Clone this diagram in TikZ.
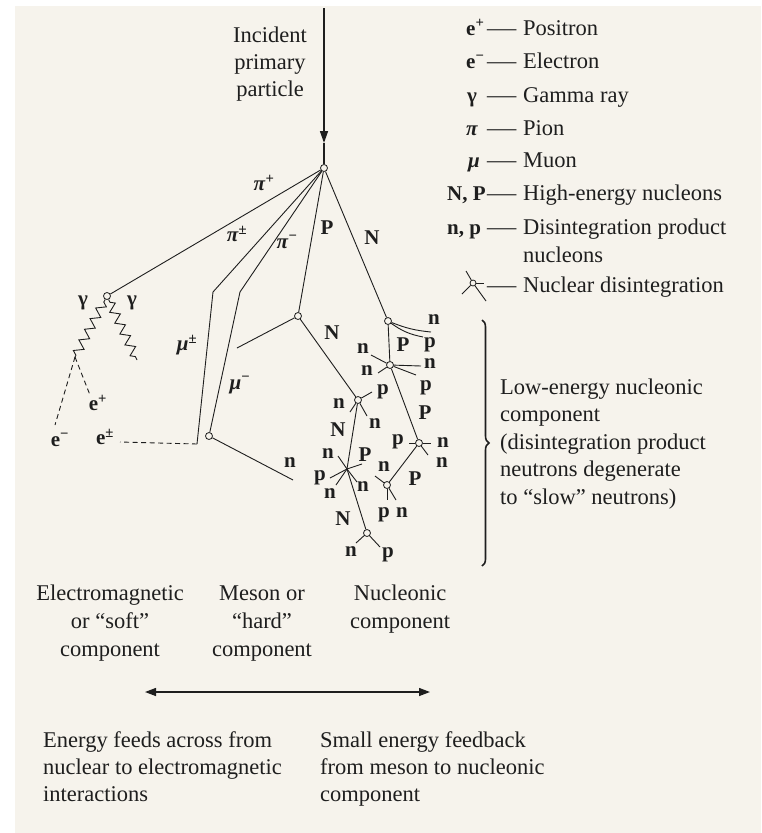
\documentclass[tikz,border=0pt]{standalone}
\usepackage{fontspec}
\usepackage{graphicx}
\setmainfont{Liberation Serif}
\usetikzlibrary{arrows.meta,decorations.pathmorphing,decorations.pathreplacing}
\definecolor{cream}{RGB}{246,243,236}
\definecolor{ink}{RGB}{30,30,30}
\begin{document}
\begin{tikzpicture}[x=1pt,y=-1pt,
  trk/.style={draw=ink,line width=0.9pt},
  edash/.style={draw=ink,line width=0.9pt,dash pattern=on 5pt off 3.5pt},
  gam/.style={draw=ink,line width=0.9pt,decorate,decoration={zigzag,amplitude=4.5pt,segment length=12pt,pre length=3pt,post length=1pt}},
  vtx/.style={circle,draw=ink,fill=cream,line width=0.8pt,inner sep=0pt,minimum size=7pt},
  lbl/.style={font=\fontsize{21}{23}\selectfont\bfseries,inner sep=0pt,text=ink},
  txt/.style={font=\fontsize{22.5}{27.5}\selectfont,inner sep=0pt,text=ink},
  leg/.style={font=\fontsize{22.5}{28}\selectfont,inner sep=0pt,anchor=base west,text=ink},
  legsym/.style={font=\fontsize{21}{24}\selectfont\bfseries,inner sep=0pt,anchor=base west,text=ink}]

\fill[white] (0,0) rectangle (761,833);
\fill[cream] (15,6) rectangle (761,833);
\useasboundingbox (0,0) rectangle (761,833);

% ---------- vertices and points ----------
\coordinate (top) at (324,8);
\coordinate (tip) at (324,143);
\node[vtx] (v0) at (324,168) {};
\node[vtx] (vg) at (107,296) {};
\coordinate (k1) at (213,292);
\coordinate (k2) at (197,444);
\coordinate (e1) at (120,442);
\coordinate (k3) at (240,292);
\node[vtx] (vmu) at (209,436) {};
\coordinate (nend) at (293,480);
\node[vtx] (v1) at (298,316) {};
\coordinate (s1) at (237,348);
\node[vtx] (v2) at (358,400) {};
\coordinate (v3) at (347,469);
\node[vtx] (v4) at (367,533) {};
\node[vtx] (v5) at (388,321) {};
\node[vtx] (v6) at (390,365) {};
\node[vtx] (v7) at (419,443) {};
\node[vtx] (v8) at (387,485) {};

% stubs
\coordinate (a1) at (372,392); \coordinate (a2) at (350,412); \coordinate (a3) at (367,416);
\coordinate (b1) at (338,456); \coordinate (b2) at (362,464); \coordinate (b3) at (330,478);
\coordinate (b4) at (336,485); \coordinate (b5) at (357,482);
\coordinate (c1) at (431,332); \coordinate (c2) at (423,337);
\coordinate (d1) at (371,355); \coordinate (d2) at (378,373); \coordinate (d3) at (421,366); \coordinate (d4) at (416,375);
\coordinate (f1) at (409,443); \coordinate (f2) at (431,443); \coordinate (f3) at (428,455);
\coordinate (g1) at (375,476); \coordinate (g2) at (387,500); \coordinate (g3) at (396,500);
\coordinate (h1) at (356,543); \coordinate (h2) at (380,547);
\coordinate (gl) at (75,357); \coordinate (gr) at (137,360);
\coordinate (em) at (55,425); \coordinate (ep) at (90,395);

% ---------- incident arrow ----------
\draw[ink,line width=1.5pt,-{Triangle[length=12pt,width=8pt]}] (top) -- (tip);
\draw[ink,line width=1.5pt] (tip) -- (v0);

% ---------- tracks ----------
\draw[trk] (v0) -- (vg);
\draw[trk] (v0) -- (k1) -- (k2);
\draw[edash] (k2) -- (e1);
\draw[trk] (v0) -- (k3) -- (vmu);
\draw[trk] (vmu) -- (nend);
\draw[trk] (v0) -- (v1);
\draw[trk] (v1) -- (s1);
\draw[trk] (v1) -- (v2);
\draw[trk] (v2) -- (v3) -- (v4);
\draw[trk] (v0) -- (v5);
\draw[trk] (v5) -- (v6) -- (v7) -- (v8);
\draw[trk] (v2) -- (a1); \draw[trk] (v2) -- (a2); \draw[trk] (v2) -- (a3);
\draw[trk] (v3) -- (b1); \draw[trk] (v3) -- (b2); \draw[trk] (v3) -- (b3);
\draw[trk] (v3) -- (b4); \draw[trk] (v3) -- (b5);
\draw[trk] (v5) to[bend right=8] (c1); \draw[trk] (v5) to[bend right=12] (c2);
\draw[trk] (v6) -- (d1); \draw[trk] (v6) -- (d2); \draw[trk] (v6) -- (d3); \draw[trk] (v6) -- (d4);
\draw[trk] (v7) -- (f1); \draw[trk] (v7) -- (f2); \draw[trk] (v7) -- (f3);
\draw[trk] (v8) -- (g1); \draw[trk] (v8) -- (g2); \draw[trk] (v8) -- (g3);
\draw[trk] (v4) -- (h1); \draw[trk] (v4) -- (h2);
\draw[gam] (vg) -- (gl);
\draw[gam] (vg) -- (gr);
\draw[edash] (gl) -- (em);
\draw[edash] (gl) -- (ep);

% ---------- track labels ----------
\node[lbl] (lpip) at (264,183) {\textit{π}\textsuperscript{+}};
\node[lbl] (lpipm) at (237,234) {\textit{π}\textsuperscript{±}};
\node[lbl] (lpim) at (287,242) {\textit{π}\textsuperscript{−}};
\node[lbl] (lP0) at (327,228) {P};
\node[lbl] (lN0) at (372,238) {N};
\node[lbl] (lg1) at (83,303) {γ};
\node[lbl] (lg2) at (132,303) {γ};
\node[lbl] (lmupm) at (187,345) {\textit{μ}\textsuperscript{±}};
\node[lbl] (lmum) at (240,385) {\textit{μ}\textsuperscript{−}};
\node[lbl] (lep) at (98,403) {e\textsuperscript{+}};
\node[lbl] (lem) at (60,440) {e\textsuperscript{−}};
\node[lbl] (lepm) at (105,437) {e\textsuperscript{±}};
\node[lbl] (ln0) at (290,463) {n};
\node[lbl] (lN1) at (332,333) {N};
\node[lbl] (l5a) at (434,320) {n};
\node[lbl] (l5b) at (430,345) {p};
\node[lbl] (l5c) at (403,345) {P};
\node[lbl] (l6a) at (363,349) {n};
\node[lbl] (l6b) at (367,371) {n};
\node[lbl] (l6c) at (430,364) {n};
\node[lbl] (l6d) at (426,388) {p};
\node[lbl] (l2a) at (383,392) {p};
\node[lbl] (l2b) at (339,404) {n};
\node[lbl] (l2c) at (375,424) {n};
\node[lbl] (lN2) at (338,430) {N};
\node[lbl] (l7P) at (425,413) {P};
\node[lbl] (l7a) at (398,442) {p};
\node[lbl] (l7b) at (443,443) {n};
\node[lbl] (l7c) at (442,463) {n};
\node[lbl] (l3a) at (328,454) {n};
\node[lbl] (l3b) at (365,455) {P};
\node[lbl] (l3c) at (320,478) {p};
\node[lbl] (l3d) at (330,494) {n};
\node[lbl] (l3e) at (363,487) {n};
\node[lbl] (l8a) at (384,467) {n};
\node[lbl] (l8P) at (415,479) {P};
\node[lbl] (l8b) at (384,515) {p};
\node[lbl] (l8c) at (402,513) {n};
\node[lbl] (lN3) at (343,519) {N};
\node[lbl] (l4a) at (351,552) {n};
\node[lbl] (l4b) at (388,555) {p};

% ---------- texts ----------
\node[txt,align=center,anchor=north,font=\fontsize{22.5}{27}\selectfont] (incident) at (270,26.6) {Incident\\primary\\particle};

\node[txt,align=left,anchor=north west] (lowen) at (500,378.6) {Low-energy nucleonic\\component\\(disintegration product\\neutrons degenerate\\to “slow” neutrons)};
\coordinate (brt) at (482,320);
\coordinate (brb) at (482,566);
\draw[ink,line width=1.6pt,decorate,decoration={brace,amplitude=7pt}] (brt) -- (brb);

\node[txt,align=center,anchor=north,font=\fontsize{22.5}{28}\selectfont] (emc) at (110,584.6) {Electromagnetic\\or “soft”\\component};
\node[txt,align=center,anchor=north,font=\fontsize{22.5}{28}\selectfont] (mes) at (262,585.1) {Meson or\\“hard”\\component};
\node[txt,align=center,anchor=north,font=\fontsize{22.5}{28}\selectfont] (nuc) at (400,584.6) {Nucleonic\\component};

\coordinate (arl) at (145,692);
\coordinate (arr) at (430,692);
\draw[ink,line width=1.3pt,{Triangle[length=11pt,width=8pt]}-{Triangle[length=11pt,width=8pt]}] (arl) -- (arr);

\node[txt,align=left,anchor=north west,font=\fontsize{22.5}{27}\selectfont] (feeda) at (43,731.6) {Energy feeds across from\\nuclear to electromagnetic\\interactions};
\node[txt,align=left,anchor=north west,font=\fontsize{22.5}{27}\selectfont] (feedb) at (320,731.6) {Small energy feedback\\from meson to nucleonic\\component};

% ---------- legend ----------
\node[legsym] (s1l) at (466,35) {e\textsuperscript{+}};
\node[legsym] (s2l) at (466,68) {e\textsuperscript{−}};
\node[legsym] (s3l) at (467,102) {γ};
\node[legsym] (s4l) at (466,135) {\textit{π}};
\node[legsym] (s5l) at (468,167) {\textit{μ}};
\node[legsym] (s6l) at (447,200) {N, P};
\node[legsym] (s7l) at (447,234) {n, p};
\foreach \i/\yy in {1/35,2/68,3/102,4/135,5/167,6/200,7/234,8/292}{
  \node[leg] (dash\i) at (487,\yy) {\scalebox{1.3}[1]{—}};
}
\node[leg] (t1l) at (523,35) {Positron};
\node[leg] (t2l) at (523,68) {Electron};
\node[leg] (t3l) at (523,102) {Gamma ray};
\node[leg] (t4l) at (523,135) {Pion};
\node[leg] (t5l) at (523,167) {Muon};
\node[leg] (t6l) at (523,200) {High-energy nucleons};
\node[txt,align=left,anchor=north west,font=\fontsize{22.5}{28}\selectfont] (t7l) at (523,218.6) {Disintegration product\\nucleons};
\node[leg] (t8l) at (523,292) {Nuclear disintegration};
\node[vtx,minimum size=6pt] (lsym) at (473,283) {};
\coordinate (q1) at (466,271); \coordinate (q2) at (462,294);
\coordinate (q3) at (484,283); \coordinate (q4) at (486,301);
\draw[trk] (lsym) -- (q1); \draw[trk] (lsym) -- (q2);
\draw[trk] (lsym) -- (q3); \draw[trk] (lsym) -- (q4);
\end{tikzpicture}
\end{document}
